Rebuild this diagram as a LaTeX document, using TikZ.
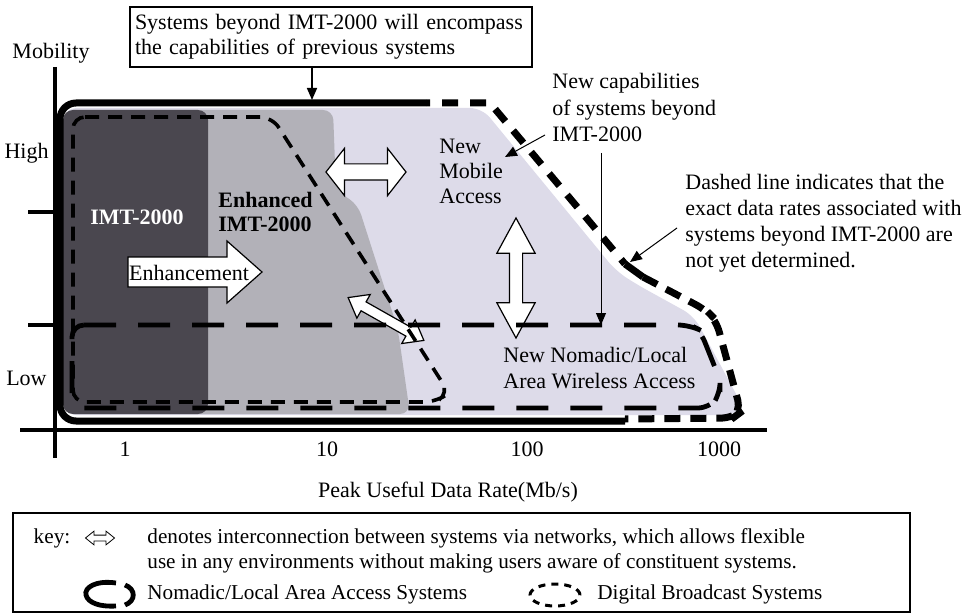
\documentclass[tikz,border=0pt]{standalone}
\usepackage{fontspec}
\setmainfont{Liberation Serif}
\usepackage{tikz}
\usetikzlibrary{arrows.meta, calc, shapes.arrows}

\definecolor{mobfill}{RGB}{221,219,233}
\definecolor{enhgray}{RGB}{178,177,184}
\definecolor{imtdark}{RGB}{74,71,79}

\begin{document}
\begin{tikzpicture}[x=0.5pt, y=-0.5pt,
	lbl/.style={inner sep=0pt, font=\fontsize{11}{12.5}\selectfont},
	note/.style={lbl, align=left, anchor=north west},
	ptr/.style={-{Triangle[length=6pt, width=5pt]}, line width=0.5pt},
	beyond/.style={line width=3.5pt},
	bcast/.style={line width=1.8pt, dash pattern=on 7pt off 4.5pt},
	nomadic/.style={line width=2.4pt, dash pattern=on 16pt off 11pt},
	linkarrow/.style={double arrow, draw, fill=white, inner xsep=0pt, line width=0.6pt},
	axis/.style={line width=2.2pt},
]

	\useasboundingbox (0,0) rectangle (970,615);

	% regions
	\fill[mobfill, rounded corners=6pt] (64,108) -- (482,108) -- (616,271) -- (636,284) -- (694,316) -- (742,405) -- (738,415) -- (64,415) -- cycle;
	\fill[enhgray, rounded corners=5pt] (64,110) -- (333,110) -- (336,190) -- (358,205) -- (398,330) -- (410,414) -- (64,414) -- cycle;
	\fill[imtdark, rounded corners=5pt] (63,110) rectangle (208,414);

	% axes
	\draw[axis] (55,67) -- (55,458);
	\draw[axis, line width=2pt] (20,430) -- (767,430);
	\draw[axis] (28,212) -- (55,212);
	\draw[axis] (28,325) -- (55,325);

	\node[lbl] (mob) at (51,53) {Mobility};
	\node[lbl, anchor=east] (high) at (49,153) {High};
	\node[lbl, anchor=east] (low) at (47,378) {Low};
	\foreach \xv/\rate in {125/1, 327/10, 527/100, 719/1000}
		\node[lbl] (rate\rate) at (\xv,449) {\rate};
	\node[lbl] (xlabel) at (448,492) {Peak Useful Data Rate(Mb/s)};

	% interconnection arrows
	\filldraw[fill=white, line width=0.6pt] (128,257) -- (227,257) -- (227,241) -- (262,272) -- (227,303) -- (227,287) -- (128,287) -- cycle;
	\node[lbl] (enh) at (189,273) {Enhancement};
	\node[linkarrow, inner ysep=3.75pt, minimum height=40pt, minimum width=23pt, double arrow head extend=7.75pt, double arrow tip angle=104] (link1) at (366,172) {};
	\node[linkarrow, inner ysep=3pt, rotate=90, minimum height=60pt, minimum width=18.5pt, double arrow head extend=6.25pt, double arrow tip angle=57] (link2) at (516,278) {};
	\node[linkarrow, inner ysep=2.25pt, rotate=-29.5, minimum height=43.5pt, minimum width=13pt, double arrow head extend=4.25pt, double arrow tip angle=75] (link3) at (386,319) {};

	% system boundaries
	\draw[bcast, rounded corners=6pt] (73,117) -- (272,117) -- (449,393) -- (436,402) -- (73,402) -- cycle;
	\draw[nomadic, rounded corners=6pt] (72,325) -- (690,325) -- (700,330) -- (720,380) -- (720,395) -- (710,408) -- (72,408) -- cycle;
	\draw[beyond, rounded corners=8pt] (625,421) -- (60,421) -- (60,103) -- (426,103);
	\draw[beyond, dash pattern=on 8pt off 6pt, dash phase=6pt] (426,103) -- (490,103) -- (625,264);
	\draw[beyond] (625,264) -- (643,277);
	\draw[beyond, dash pattern=on 8pt off 5pt, rounded corners=6pt] (643,277) -- (706,310) -- (716,320) -- (741,412) -- (733,418) -- (625,419);

	% texts in the plot
	\node[lbl, text=white, font=\bfseries\fontsize{11}{12}\selectfont] (imt) at (137,217) {IMT-2000};
	\node[note, font=\bfseries\fontsize{11}{12}\selectfont] (enhimt) at (218,192) {Enhanced\\IMT-2000};
	\node[note] (newmob) at (439,139) {New\\Mobile\\Access};
	\node[note, font=\fontsize{11}{13}\selectfont] (nomad) at (503,347) {New Nomadic/Local\\Area Wireless Access};

	% notes
	\node[lbl, draw, line width=0.6pt, align=left, text width=196pt, inner xsep=2.5pt, minimum height=30pt] (topbox) at (331,37) {Systems beyond IMT-2000 will encompass\\the capabilities of previous systems};
	\coordinate (enc) at (312,100);
	\draw[ptr, line width=0.8pt] (topbox.south -| enc) -- (enc);

	\node[note, font=\fontsize{11}{13.25}\selectfont] (newcap) at (552,73) {New capabilities\\of systems beyond\\IMT-2000};
	\coordinate (capfrom) at (545,135);
	\coordinate (capto) at (505,157);
	\draw[ptr] (capfrom) -- (capto);
	\coordinate (capdown) at (601,153);
	\coordinate (nomline) at (601,325);
	\draw[ptr] (capdown) -- (nomline);

	\node[note, font=\fontsize{11}{13}\selectfont] (dashnote) at (685,174) {Dashed line indicates that the\\exact data rates associated with\\systems beyond IMT-2000 are\\not yet determined.};
	\coordinate (dlfrom) at (677,228);
	\coordinate (dlto) at (630,262);
	\draw[ptr] (dlfrom) -- (dlto);

	% key
	\draw[line width=0.6pt] (13,513) rectangle (910,612);
	\node[lbl, font=\fontsize{10.6}{12.5}\selectfont] (key) at (52,538) {key:};
	\node[linkarrow, inner ysep=1.25pt, minimum height=14.5pt, minimum width=6.5pt, double arrow head extend=2pt, double arrow tip angle=78, line width=0.4pt] (keylink) at (100,538) {};
	\node[note, font=\fontsize{10.6}{12.5}\selectfont] (keytxt) at (147,528) {denotes interconnection between systems via networks, which allows flexible\\use in any environments without making users aware of constituent systems.};

	\draw[line width=2.4pt] (116,583) .. controls (95,580) and (84,588) .. (86,595) .. controls (88,603) and (100,607) .. (116,606);
	\draw[line width=2.4pt] (125,585) .. controls (136,589) and (136,601) .. (125,605);
	\node[lbl, anchor=west, font=\fontsize{10.6}{12.5}\selectfont] (nomkey) at (147,594) {Nomadic/Local Area Access Systems};
	\draw[line width=1.5pt, dash pattern=on 3.5pt off 3pt] (555,595) ellipse (12.5pt and 5.5pt);
	\node[lbl, anchor=west, font=\fontsize{10.6}{12.5}\selectfont] (bckey) at (597,594) {Digital Broadcast Systems};

\end{tikzpicture}
\end{document}
